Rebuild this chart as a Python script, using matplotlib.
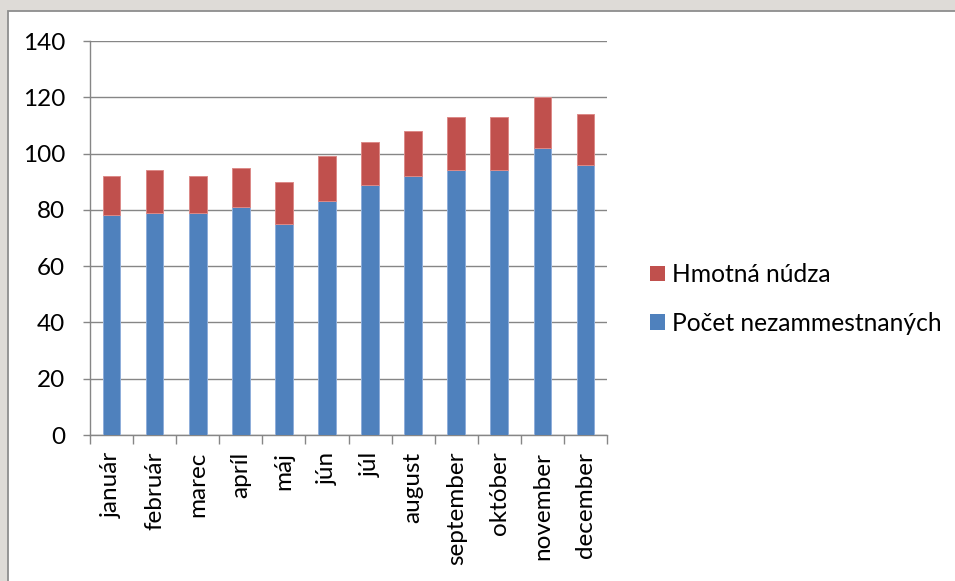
import matplotlib.pyplot as plt
from matplotlib.patches import Rectangle, Patch
from matplotlib.ticker import MultipleLocator

# Data
MONTHS = ["január", "február", "marec", "apríl", "máj", "jún", "júl",
          "august", "september", "október", "november", "december"]
NEZAMESTNANI = [78, 79, 79, 81, 75, 83, 89, 92, 94, 94, 102, 96]
HMOTNA_NUDZA = [14, 15, 13, 14, 15, 16, 15, 16, 19, 19, 18, 18]

BLUE = "#4F81BD"
RED = "#C0504D"
GRIDC = "#868686"
TXT = "#000000"

plt.rcParams.update({
    "font.family": ["Lato", "DejaVu Sans"],
    "font.size": 17,
    "text.color": TXT,
})

W, H = 955, 581
fig = plt.figure(figsize=(W / 100, H / 100), dpi=100)
fig.patch.set_facecolor("#DEDBD7")

# white chart box with grey frame
fig.patches.append(Rectangle((8 / W, -0.05), 1.2, 1 - 11 / H + 0.05,
                             transform=fig.transFigure, facecolor="white",
                             edgecolor="#8E8E8E", lw=1.3, zorder=-10))

ax = fig.add_axes([90 / W, 1 - 435 / H, 517 / W, 394 / H])
ax.set_facecolor("none")

x = range(len(MONTHS))
ax.bar(x, NEZAMESTNANI, width=0.41, color=BLUE, edgecolor="#8FAEDA",
       lw=0.7, zorder=3, label="Počet nezammestnaných")
ax.bar(x, HMOTNA_NUDZA, bottom=NEZAMESTNANI, width=0.41, color=RED,
       edgecolor="#DC8A88", lw=0.7, zorder=3, label="Hmotná núdza")

ax.set_xlim(-0.5, len(MONTHS) - 0.5)
ax.set_ylim(0, 140)
ax.yaxis.set_major_locator(MultipleLocator(20))
ax.grid(axis="y", color=GRIDC, lw=1.0, zorder=1)

ax.set_xticks(list(x), MONTHS, rotation=90, fontsize=17.5)
ax.set_xticks([i - 0.5 for i in range(len(MONTHS) + 1)], minor=True)
ax.tick_params(axis="x", which="major", length=0, pad=12)
ax.tick_params(axis="x", which="minor", length=6.5, width=1.0, color=GRIDC,
               direction="out")
ax.tick_params(axis="y", length=5, width=1.0, color=GRIDC, pad=13,
               labelsize=17.5)

for s in ["top", "right"]:
    ax.spines[s].set_visible(False)
for s in ["left", "bottom"]:
    ax.spines[s].set_color(GRIDC)
    ax.spines[s].set_linewidth(1.0)

handles = [Patch(facecolor=RED, edgecolor="none", label="Hmotná núdza"),
           Patch(facecolor=BLUE, edgecolor="none", label="Počet nezammestnaných")]
fig.legend(handles=handles, loc="center left",
           bbox_to_anchor=(640 / W, 1 - 299 / H), frameon=False,
           fontsize=17.7, handlelength=0.6, handleheight=0.6,
           handletextpad=0.3, labelspacing=1.05, borderaxespad=0)

fig.savefig("out.png", dpi=100, facecolor=fig.get_facecolor())
